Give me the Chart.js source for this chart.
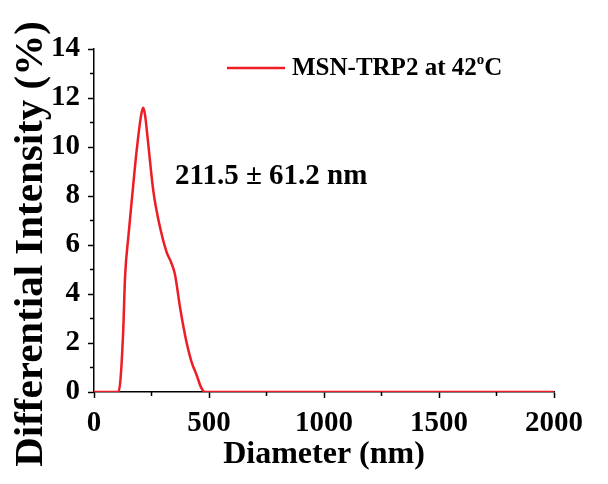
<!DOCTYPE html>
<html>
<head>
<meta charset="utf-8">
<script src="https://cdn.jsdelivr.net/npm/chart.js@4.4.0/dist/chart.umd.min.js"></script>
<style>
  html, body { margin: 0; padding: 0; background: #fff; }
  #wrap { width: 608px; height: 484px; }
</style>
</head>
<body>
<div id="wrap"><canvas id="grafico" width="608" height="484"></canvas></div>
<script>
    // dados
    let diametros = [0, 100, 106, 115, 127, 135, 150, 164, 186, 205, 214, 222, 235, 258, 290, 316, 335, 352, 375, 403, 425, 446, 465, 483, 2000];
    let intensidades = [0, 0, 0, 0.5, 2.5, 4.7, 6.4, 7.8, 9.9, 11.3, 11.6, 11.3, 10.2, 8.2, 6.6, 5.7, 5.3, 4.8, 3.4, 2.0, 1.2, 0.7, 0.2, 0, 0];
    let rotuloSerie = "MSN-TRP2 at 42°C";
    let anotacao = "211.5 ± 61.2 nm";
    let tituloX = "Diameter (nm)";
    let tituloY = "Differential Intensity (%)";

    let fonte = "'Liberation Serif', 'Times New Roman', serif";
    let vermelho = "#ee1c24";

    let pontos = diametros.map((d, i) => ({ x: d, y: intensidades[i] }));

    // ticks menores e textos extras
    let extras = {
      id: "extras",
      afterDraw(chart) {
        let ctx = chart.ctx;
        let sx = chart.scales.x;
        let sy = chart.scales.y;
        ctx.save();
        ctx.strokeStyle = "#000";
        ctx.lineWidth = 1.5;
        ctx.beginPath();
        for (let v = 1; v < 14; v += 2) {
          let py = sy.getPixelForValue(v);
          ctx.moveTo(sy.right - 4, py);
          ctx.lineTo(sy.right, py);
        }
        for (let v = 250; v < 2000; v += 500) {
          let px = sx.getPixelForValue(v);
          ctx.moveTo(px, sx.top);
          ctx.lineTo(px, sx.top + 4);
        }
        ctx.stroke();

        // título do eixo y (desce abaixo do eixo, como no original)
        ctx.save();
        ctx.translate(31, 244);
        ctx.rotate(-Math.PI / 2);
        ctx.fillStyle = "#000";
        ctx.textAlign = "center";
        ctx.textBaseline = "middle";
        ctx.font = "bold 41px " + fonte;
        ctx.fillText(tituloY, 0, 0);
        ctx.restore();

        // legenda
        let ly = 68;
        ctx.strokeStyle = vermelho;
        ctx.lineWidth = 2.5;
        ctx.beginPath();
        ctx.moveTo(227, ly);
        ctx.lineTo(285, ly);
        ctx.stroke();

        ctx.fillStyle = "#000";
        ctx.textBaseline = "alphabetic";
        ctx.font = "bold 25px " + fonte;
        let partes = rotuloSerie.split("°");
        let x = 292;
        let base = 75;
        ctx.fillText(partes[0], x, base);
        x += ctx.measureText(partes[0]).width;
        ctx.font = "bold 15px " + fonte;
        ctx.fillText("o", x, base - 11);
        x += ctx.measureText("o").width;
        ctx.font = "bold 25px " + fonte;
        ctx.fillText(partes[1], x, base);

        // anotação
        ctx.font = "bold 29px " + fonte;
        ctx.fillText(anotacao, 175, 184);
        ctx.restore();
      }
    };

    let grafico = new Chart(document.getElementById("grafico").getContext("2d"), {
      type: "line",
      data: {
        datasets: [{
          label: rotuloSerie,
          data: pontos,
          borderColor: vermelho,
          borderWidth: 2.5,
          pointRadius: 0,
          fill: false,
          cubicInterpolationMode: "monotone"
        }]
      },
      options: {
        responsive: false,
        animation: false,
        layout: { padding: { top: 49, right: 54, bottom: 0, left: 0 } },
        plugins: {
          legend: { display: false },
          tooltip: { enabled: false }
        },
        scales: {
          x: {
            type: "linear",
            min: 0,
            max: 2000,
            afterFit(s) { s.height = 92; },
            border: { display: true, color: "#000", width: 1.5 },
            grid: { drawOnChartArea: false, drawTicks: true, tickLength: 6, tickColor: "#000", tickWidth: 1.5 },
            ticks: { stepSize: 500, color: "#000", padding: 8, maxRotation: 0, callback: (v) => String(v), font: { family: fonte, size: 29, weight: "bold" } },
            title: { display: true, text: tituloX, color: "#000", padding: { top: 0, bottom: 10 }, font: { family: fonte, size: 32, weight: "bold" } }
          },
          y: {
            min: 0,
            max: 14,
            afterFit(s) { s.width = 94; },
            border: { display: true, color: "#000", width: 1.5 },
            grid: { drawOnChartArea: false, drawTicks: true, tickLength: 6, tickColor: "#000", tickWidth: 1.5 },
            ticks: { stepSize: 2, color: "#000", padding: 8, callback: (v) => String(v), font: { family: fonte, size: 29, weight: "bold" } },
            title: { display: false, text: tituloY }
          }
        }
      },
      plugins: [extras]
    });
</script>
</body>
</html>
